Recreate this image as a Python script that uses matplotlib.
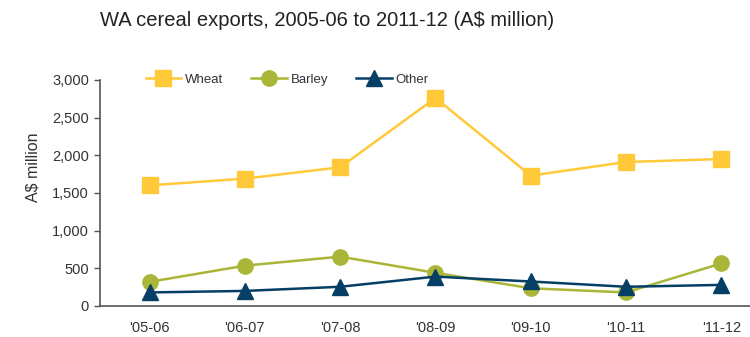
import matplotlib
matplotlib.use("Agg")
import matplotlib.pyplot as plt
import matplotlib.ticker as mticker

years = ["'05-06", "'06-07", "'07-08", "'08-09", "'09-10", "'10-11", "'11-12"]
wheat = [1600, 1690, 1840, 2760, 1730, 1910, 1950]
barley = [320, 535, 655, 440, 235, 180, 565]
other = [180, 200, 255, 390, 325, 255, 280]

WHEAT_C = "#FFC93A"
BARLEY_C = "#A9B638"
OTHER_C = "#063F66"
TEXT_C = "#333333"

plt.rcParams["font.family"] = ["Liberation Sans", "DejaVu Sans"]

fig = plt.figure(figsize=(7.5, 3.37), dpi=100, facecolor="#fff")
ax = fig.add_axes([0.1333, 0.092, 0.8667, 0.671])

x = range(len(years))
ax.plot(x, wheat, color=WHEAT_C, lw=1.8, marker="s", ms=11.5, label="Wheat")
ax.plot(x, barley, color=BARLEY_C, lw=1.8, marker="o", ms=11, label="Barley")
ax.plot(x, other, color=OTHER_C, lw=1.8, marker="^", ms=12, label="Other")

ax.set_xlim(-0.52, 6.3)
ax.set_ylim(0, 3000)
ax.set_xticks(list(x))
ax.set_xticklabels(years)
ax.set_yticks(range(0, 3001, 500))
ax.yaxis.set_major_formatter(mticker.FuncFormatter(lambda v, _: f"{v:,.0f}"))
ax.tick_params(axis="y", direction="out", length=4, width=1, colors="#555",
               labelcolor=TEXT_C, labelsize=10.5, pad=4)
ax.tick_params(axis="x", length=0, labelcolor=TEXT_C, labelsize=10.5, pad=11)
ax.spines[["top", "right"]].set_visible(False)
ax.spines[["left", "bottom"]].set_color("#555")
ax.spines[["left", "bottom"]].set_linewidth(1.2)
for ln in ax.lines:
    ln.set_clip_on(False)

ax.legend(loc="center left", bbox_to_anchor=(0.052, 1.0), ncol=3, frameon=False,
          fontsize=9.5, handlelength=2.7, handletextpad=0.3, columnspacing=2.1,
          markerscale=1.0, labelcolor=TEXT_C)

fig.text(33 / 750, 1 - 167 / 337, "A$ million", rotation=90, ha="center",
         va="center", fontsize=11.5, color=TEXT_C)
fig.text(100 / 750, 1 - 20 / 337, "WA cereal exports, 2005-06 to 2011-12 (A$ million)",
         ha="left", va="center", fontsize=14.5, color="#222")

fig.savefig("out.png", dpi=100, facecolor=fig.get_facecolor())
